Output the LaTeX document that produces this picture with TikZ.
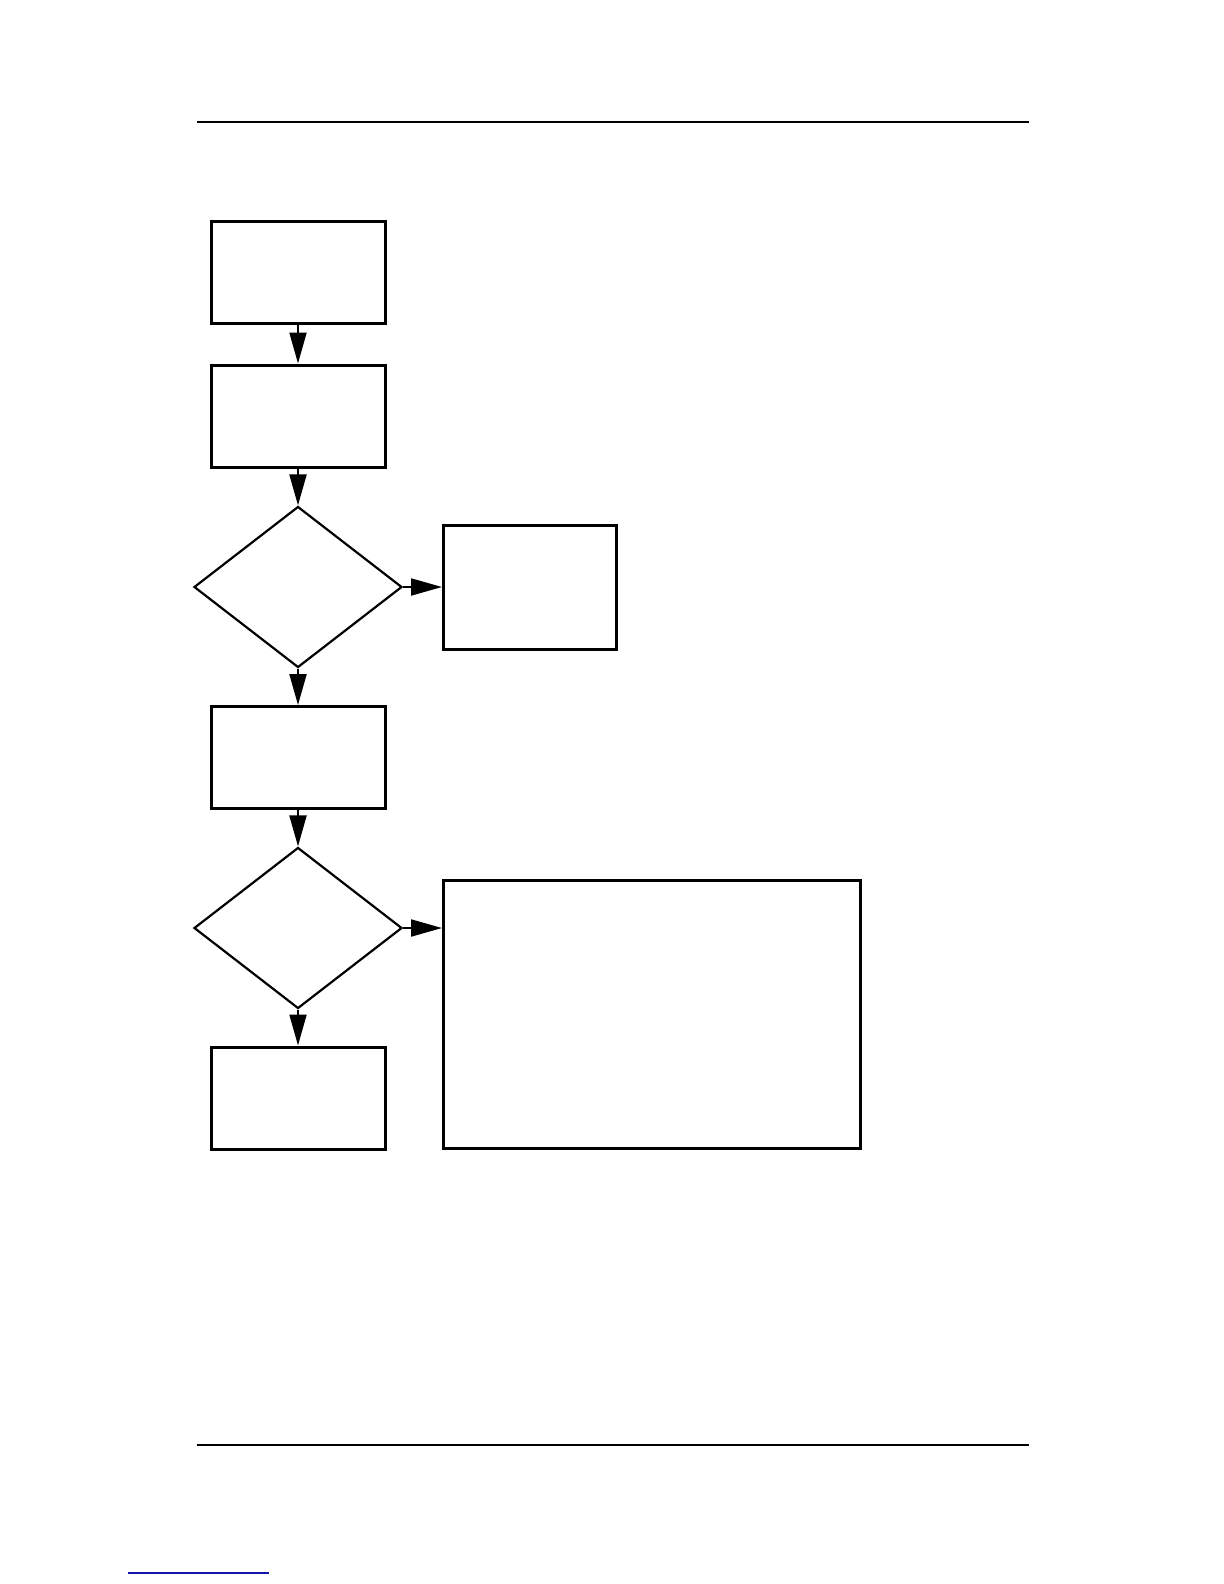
\documentclass[tikz,border=0pt]{standalone}
\usetikzlibrary{shapes.geometric,arrows.meta}
\definecolor{linkblue}{RGB}{20,20,170}
\begin{document}
\begin{tikzpicture}[x=0.5pt,y=-0.5pt,
  box/.style={draw, line width=1.5pt, rectangle, inner sep=0pt},
  smallbox/.style={box, minimum width=87pt, minimum height=51pt},
  dec/.style={draw, line width=1.1pt, diamond, inner sep=0pt, minimum width=104pt, minimum height=80.5pt},
  conn/.style={line width=1pt, -{Triangle[length=15.5pt,width=8.5pt]}},
  rulestyle/.style={line width=1pt}]
\fill[white] (0,0) rectangle (1224,1584);
\useasboundingbox (0,0) rectangle (1224,1584);
% header and footer rules
\draw[rulestyle] (197,122) -- (1029,122);
\draw[rulestyle] (197,1445) -- (1029,1445);
\draw[linkblue, line width=0.8pt] (128,1573) -- (269,1573);
% nodes
\node[smallbox] (b1) at (298,272) {};
\node[smallbox] (b2) at (298,416) {};
\node[dec] (d1) at (298,587) {};
\node[box, minimum width=86.5pt, minimum height=62pt] (r1) at (530,587.5) {};
\node[smallbox] (b3) at (298,757.5) {};
\node[dec] (d2) at (298,928) {};
\node[box, minimum width=208.5pt, minimum height=134pt] (big) at (652,1014.5) {};
\node[smallbox] (b4) at (298,1098) {};
% connectors
\draw[conn] (b1) -- (b2);
\draw[conn] (b2) -- (d1);
\draw[conn] (d1.east) -- (r1.west |- d1.east);
\draw[conn] (d1) -- (b3);
\draw[conn] (b3) -- (d2);
\draw[conn] (d2.east) -- (big.west |- d2.east);
\draw[conn] (d2) -- (b4);
\end{tikzpicture}
\end{document}
